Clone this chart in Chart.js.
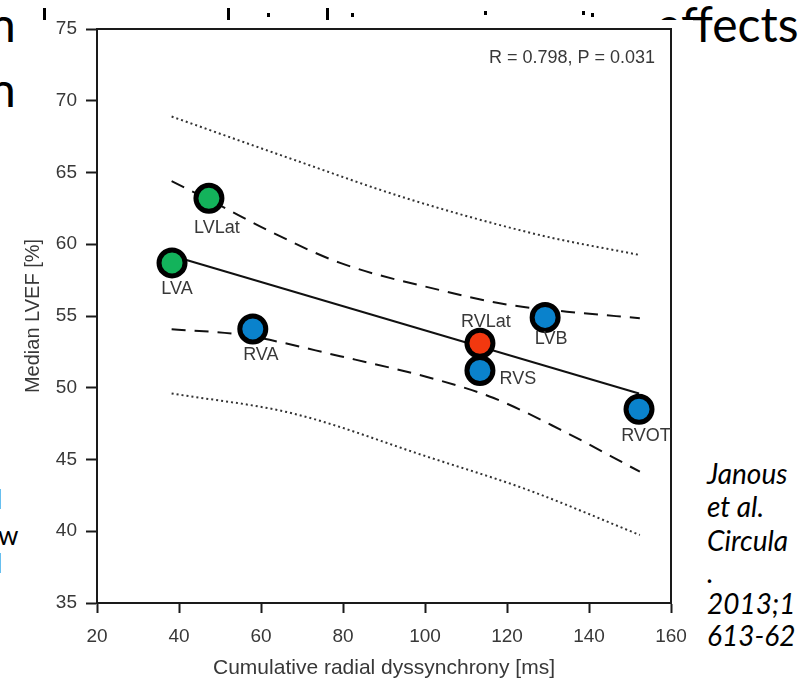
<!DOCTYPE html>
<html>
<head>
<meta charset="utf-8">
<script src="https://cdn.jsdelivr.net/npm/chart.js@4.4.0/dist/chart.umd.min.js"></script>
<style>
  html, body { margin: 0; padding: 0; background: #fff; width: 798px; height: 687px; overflow: hidden; }
  .slide { position: absolute; font-family: Lato, "Open Sans", sans-serif; color: #000; white-space: nowrap; line-height: 1; }
  .big { font-size: 48px; }
  .small { font-size: 26px; }
  .ref { font-size: 28px; font-style: italic; }
  .mark { position: absolute; background: #000; }
  #chart { position: absolute; left: 0; top: 0; }
</style>
</head>
<body>
<!-- what is left of the slide around the pasted figure -->
<div class="slide big" style="left:-11px; top:0px;">n</div>
<div class="slide big" style="left:-11px; top:65px;">n</div>
<div class="slide big" style="left:656px; top:0px;">effects</div>
<div class="mark" style="left:43px; top:8px; width:3px; height:12px;"></div>
<div class="mark" style="left:227px; top:8px; width:3px; height:12px;"></div>
<div class="mark" style="left:267px; top:13px; width:3px; height:4px;"></div>
<div class="mark" style="left:326px; top:8px; width:3px; height:12px;"></div>
<div class="mark" style="left:351px; top:13px; width:3px; height:4px;"></div>
<div class="mark" style="left:484px; top:11px; width:3px; height:4px;"></div>
<div class="mark" style="left:582px; top:11px; width:3px; height:4px;"></div>
<div class="mark" style="left:591px; top:13px; width:3px; height:4px;"></div>
<div class="slide small" style="left:-4px; top:486px;">l</div>
<div class="slide small" style="left:-2px; top:522px;">w</div>
<div class="slide small" style="left:-4px; top:550px;">l</div>
<div class="slide ref" style="left:707px; top:459px;">Janous</div>
<div class="slide ref" style="left:707px; top:492px;">et al.</div>
<div class="slide ref" style="left:707px; top:526px;">Circula</div>
<div class="slide ref" style="left:707px; top:558px;">.</div>
<div class="slide ref" style="left:707px; top:589px;">2013;1</div>
<div class="slide ref" style="left:707px; top:621px;">613-62</div>

<canvas id="chart" width="798" height="687"></canvas>
<script>
// pacing sites
const siteNames = ['LVLat', 'LVA', 'RVA', 'LVB', 'RVS', 'RVLat', 'RVOT'];
const dyssynchrony = [47.3, 38.3, 58.0, 129.3, 113.4, 113.4, 152.2];   // ms
const medianLVEF = [63.2, 58.7, 54.1, 54.9, 51.2, 53.1, 48.5];        // %

// regression line
const fitX = [38.3, 152.2];
const fitY = [59.2, 49.6];

// 95% confidence band (dashed)
const ciUpperX = [38.2, 50.7, 61.5, 79.3, 103.7, 120, 134.6, 152.4];
const ciUpperY = [64.4, 62.6, 61.0, 58.7, 56.8, 55.8, 55.3, 54.85];
const ciLowerX = [38.2, 54.9, 79.3, 103.7, 116.6, 132.9, 152.4];
const ciLowerY = [54.07, 53.7, 52.2, 50.5, 49.3, 47.1, 44.15];

// prediction band (dotted)
const piUpperX = [38.2, 67.9, 95.5, 128, 152.4];
const piUpperY = [68.9, 65.9, 63.2, 60.64, 59.25];
const piLowerX = [38.2, 67.9, 100.5, 124.9, 152.4];
const piLowerY = [49.6, 48.2, 45.2, 42.9, 39.74];

const xTicks = [20, 40, 60, 80, 100, 120, 140, 160];
const yTicks = [35, 40, 45, 50, 55, 60, 65, 70, 75];
const statsText = 'R = 0.798, P = 0.031';

// styles
const siteColor = { LVLat: '#13b35b', LVA: '#13b35b', RVA: '#0a82cc', LVB: '#0a82cc', RVS: '#0a82cc', RVLat: '#f2380f', RVOT: '#0a82cc' };
const labelOffset = { LVLat: [8, 30], LVA: [5, 26], RVA: [8, 26], LVB: [6, 22], RVS: [38, 9], RVLat: [6, -21], RVOT: [7, 27] };
const textColor = '#383838';
const fontFamily = '"Liberation Sans", Arial, sans-serif';

const toXY = (xs, ys) => xs.map((x, i) => ({ x: x, y: ys[i] }));

function bandLine(xs, ys, dash, color) {
    return {
        data: toXY(xs, ys),
        showLine: true,
        borderColor: color,
        borderWidth: 2,
        borderDash: dash,
        pointRadius: 0,
        cubicInterpolationMode: 'monotone',
        order: 2
    };
}

// white background of the pasted figure
const figureBackground = {
    id: 'figureBackground',
    beforeDraw(chart) {
        const c = chart.ctx;
        c.save();
        c.fillStyle = '#fff';
        c.fillRect(21, 20, 672, 667);
        c.restore();
    }
};

// box round the plot, stats text and site names
const extras = {
    id: 'extras',
    afterDraw(chart) {
        const c = chart.ctx;
        const a = chart.chartArea;
        c.save();
        c.strokeStyle = '#1a1a1a';
        c.lineWidth = 2;
        c.strokeRect(a.left, a.top, a.right - a.left, a.bottom - a.top);

        c.fillStyle = textColor;
        c.font = '18px ' + fontFamily;
        c.textAlign = 'right';
        c.textBaseline = 'middle';
        c.fillText(statsText, a.right - 16, a.top + 29);

        c.textAlign = 'center';
        const meta = chart.getDatasetMeta(0);
        meta.data.forEach((pt, i) => {
            const off = labelOffset[siteNames[i]];
            c.fillText(siteNames[i], pt.x + off[0], pt.y + off[1]);
        });
        c.restore();
    }
};

const ctx = document.getElementById('chart').getContext('2d');
const chart = new Chart(ctx, {
    type: 'scatter',
    data: {
        datasets: [
            {
                data: toXY(dyssynchrony, medianLVEF),
                backgroundColor: siteNames.map(s => siteColor[s]),
                borderColor: '#000',
                borderWidth: 5,
                pointRadius: 13,
                clip: false,
                order: 0
            },
            {
                data: toXY(fitX, fitY),
                showLine: true,
                borderColor: '#111',
                borderWidth: 2,
                pointRadius: 0,
                order: 1
            },
            bandLine(ciUpperX, ciUpperY, [14, 9], '#111'),
            bandLine(ciLowerX, ciLowerY, [14, 9], '#111'),
            bandLine(piUpperX, piUpperY, [2, 3], '#333'),
            bandLine(piLowerX, piLowerY, [2, 3], '#333')
        ]
    },
    options: {
        responsive: false,
        animation: false,
        devicePixelRatio: 1,
        layout: { padding: { left: 21, top: 29, right: 127, bottom: 0 } },
        plugins: { legend: { display: false }, tooltip: { enabled: false } },
        scales: {
            x: {
                type: 'linear',
                min: xTicks[0],
                max: xTicks[xTicks.length - 1],
                afterBuildTicks: s => { s.ticks = xTicks.map(v => ({ value: v })); },
                afterFit: s => { s.height = 84; },
                ticks: { color: textColor, font: { family: fontFamily, size: 19 }, padding: 12 },
                grid: { drawOnChartArea: false, tickLength: 10, tickWidth: 2, tickColor: '#1a1a1a' },
                border: { color: '#1a1a1a', width: 2 },
                title: {
                    display: true,
                    text: 'Cumulative radial dyssynchrony [ms]',
                    color: textColor,
                    font: { family: fontFamily, size: 21 },
                    padding: { top: 0, bottom: 6 }
                }
            },
            y: {
                type: 'linear',
                min: yTicks[0],
                max: yTicks[yTicks.length - 1],
                afterBuildTicks: s => { s.ticks = yTicks.map(v => ({ value: v })); },
                afterFit: s => { s.width = 76; },
                ticks: { color: textColor, font: { family: fontFamily, size: 19 }, padding: 9 },
                grid: { drawOnChartArea: false, tickLength: 11, tickWidth: 2, tickColor: '#1a1a1a' },
                border: { color: '#1a1a1a', width: 2 },
                title: {
                    display: true,
                    text: 'Median LVEF [%]',
                    color: textColor,
                    font: { family: fontFamily, size: 20 },
                    padding: { top: 0, bottom: 0 }
                }
            }
        }
    },
    plugins: [figureBackground, extras]
});
</script>
</body>
</html>
